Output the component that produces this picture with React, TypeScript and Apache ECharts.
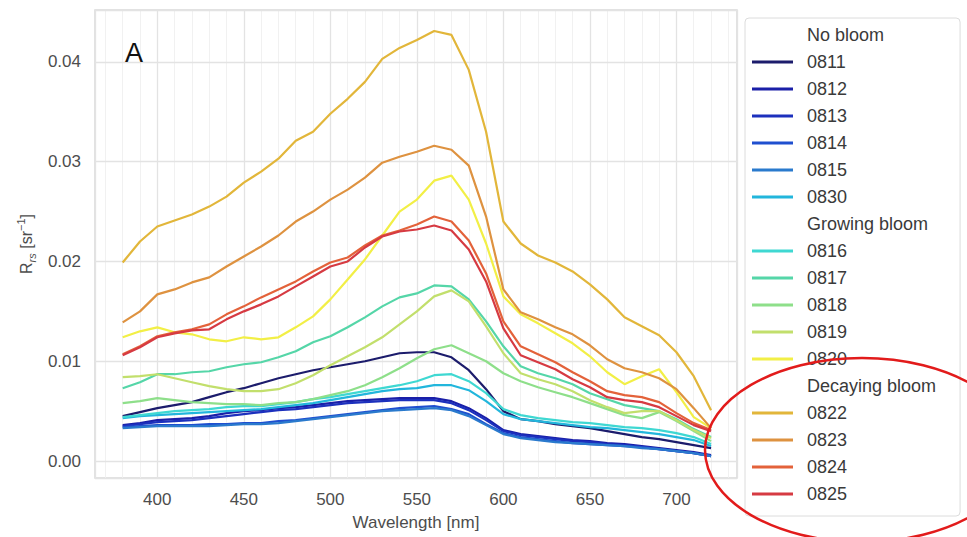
import React, { useEffect, useRef } from 'react';
import * as echarts from 'echarts';

const FONT = '"Liberation Sans", Arial, Helvetica, sans-serif';

const wavelengths = [380, 390, 400, 410, 420, 430, 440, 450, 460, 470, 480, 490, 500, 510, 520, 530, 540, 550, 560, 570, 580, 590, 600, 610, 620, 630, 640, 650, 660, 670, 680, 690, 700, 710, 720];

const xTicks = [400, 450, 500, 550, 600, 650, 700];
const yTicks = [0, 0.01, 0.02, 0.03, 0.04];

const noBloom = ['0811', '0812', '0813', '0814', '0815', '0830'];
const growingBloom = ['0816', '0817', '0818', '0819', '0820'];
const decayingBloom = ['0822', '0823', '0824', '0825'];
const groupHeaders = ['No bloom', 'Growing bloom', 'Decaying bloom'];

const r0811 = [0.0045, 0.0049, 0.0053, 0.0056, 0.0059, 0.0064, 0.0069, 0.0073, 0.0078, 0.0083, 0.0087, 0.0091, 0.0094, 0.0097, 0.0100, 0.0104, 0.0108, 0.0109, 0.0109, 0.0104, 0.0091, 0.0072, 0.0050, 0.0042, 0.0040, 0.0037, 0.0035, 0.0033, 0.0030, 0.0027, 0.0024, 0.0022, 0.0019, 0.0016, 0.0013];
const r0812 = [0.0036, 0.0038, 0.0041, 0.0042, 0.0043, 0.0045, 0.0048, 0.0050, 0.0051, 0.0053, 0.0054, 0.0056, 0.0058, 0.0060, 0.0061, 0.0062, 0.0063, 0.0063, 0.0063, 0.0060, 0.0053, 0.0043, 0.0031, 0.0027, 0.0025, 0.0023, 0.0021, 0.0020, 0.0018, 0.0017, 0.0015, 0.0013, 0.0011, 0.0009, 0.0006];
const r0813 = [0.0035, 0.0037, 0.0039, 0.0040, 0.0041, 0.0043, 0.0045, 0.0047, 0.0049, 0.0051, 0.0052, 0.0054, 0.0056, 0.0058, 0.0059, 0.0060, 0.0061, 0.0061, 0.0061, 0.0058, 0.0051, 0.0041, 0.0030, 0.0026, 0.0024, 0.0022, 0.0020, 0.0019, 0.0017, 0.0016, 0.0014, 0.0012, 0.0010, 0.0008, 0.0005];
const r0814 = [0.0034, 0.0035, 0.0036, 0.0036, 0.0036, 0.0037, 0.0037, 0.0038, 0.0038, 0.0040, 0.0041, 0.0043, 0.0045, 0.0047, 0.0049, 0.0051, 0.0053, 0.0054, 0.0055, 0.0052, 0.0047, 0.0037, 0.0028, 0.0024, 0.0022, 0.0020, 0.0018, 0.0017, 0.0016, 0.0015, 0.0014, 0.0012, 0.0010, 0.0008, 0.0005];
const r0815 = [0.0033, 0.0034, 0.0035, 0.0035, 0.0035, 0.0035, 0.0036, 0.0037, 0.0037, 0.0038, 0.0040, 0.0042, 0.0044, 0.0046, 0.0048, 0.0050, 0.0051, 0.0052, 0.0053, 0.0051, 0.0045, 0.0036, 0.0027, 0.0023, 0.0021, 0.0019, 0.0018, 0.0017, 0.0016, 0.0015, 0.0013, 0.0012, 0.0010, 0.0008, 0.0005];
const r0830 = [0.0043, 0.0045, 0.0046, 0.0047, 0.0048, 0.0049, 0.0050, 0.0051, 0.0052, 0.0054, 0.0056, 0.0058, 0.0061, 0.0064, 0.0067, 0.0070, 0.0072, 0.0073, 0.0076, 0.0076, 0.0071, 0.0060, 0.0047, 0.0042, 0.0040, 0.0038, 0.0036, 0.0034, 0.0033, 0.0031, 0.0029, 0.0027, 0.0024, 0.0021, 0.0015];
const r0816 = [0.0044, 0.0046, 0.0048, 0.0050, 0.0051, 0.0052, 0.0054, 0.0055, 0.0055, 0.0057, 0.0059, 0.0062, 0.0064, 0.0067, 0.0070, 0.0073, 0.0076, 0.0080, 0.0086, 0.0087, 0.0080, 0.0068, 0.0052, 0.0046, 0.0043, 0.0041, 0.0039, 0.0038, 0.0036, 0.0034, 0.0033, 0.0031, 0.0028, 0.0024, 0.0017];
const r0817 = [0.0073, 0.0079, 0.0087, 0.0087, 0.0089, 0.0090, 0.0094, 0.0097, 0.0099, 0.0104, 0.0110, 0.0119, 0.0125, 0.0134, 0.0144, 0.0155, 0.0164, 0.0168, 0.0176, 0.0175, 0.0162, 0.0140, 0.0115, 0.0095, 0.0088, 0.0083, 0.0077, 0.0068, 0.0062, 0.0056, 0.0053, 0.0050, 0.0042, 0.0032, 0.0024];
const r0818 = [0.0058, 0.0060, 0.0063, 0.0061, 0.0059, 0.0058, 0.0057, 0.0057, 0.0056, 0.0058, 0.0059, 0.0062, 0.0066, 0.0070, 0.0076, 0.0084, 0.0093, 0.0103, 0.0112, 0.0116, 0.0108, 0.0100, 0.0088, 0.0080, 0.0074, 0.0069, 0.0064, 0.0058, 0.0052, 0.0046, 0.0043, 0.0049, 0.0040, 0.0030, 0.0020];
const r0819 = [0.0084, 0.0085, 0.0087, 0.0083, 0.0079, 0.0075, 0.0072, 0.0070, 0.0070, 0.0072, 0.0078, 0.0086, 0.0096, 0.0105, 0.0114, 0.0124, 0.0137, 0.0150, 0.0165, 0.0171, 0.0160, 0.0135, 0.0108, 0.0088, 0.0082, 0.0077, 0.0070, 0.0061, 0.0054, 0.0048, 0.0050, 0.0050, 0.0041, 0.0031, 0.0023];
const r0820 = [0.0124, 0.0130, 0.0134, 0.0129, 0.0127, 0.0122, 0.0120, 0.0124, 0.0122, 0.0124, 0.0134, 0.0145, 0.0162, 0.0182, 0.0202, 0.0226, 0.0250, 0.0262, 0.0281, 0.0286, 0.0262, 0.0218, 0.0165, 0.0147, 0.0138, 0.0128, 0.0118, 0.0105, 0.0089, 0.0077, 0.0085, 0.0092, 0.0069, 0.0044, 0.0033];
const r0822 = [0.0199, 0.0220, 0.0235, 0.0241, 0.0247, 0.0255, 0.0265, 0.0279, 0.0290, 0.0303, 0.0321, 0.0330, 0.0348, 0.0363, 0.0380, 0.0403, 0.0414, 0.0422, 0.0431, 0.0427, 0.0392, 0.0330, 0.0240, 0.0218, 0.0206, 0.0199, 0.0190, 0.0177, 0.0162, 0.0144, 0.0135, 0.0126, 0.0109, 0.0085, 0.0051];
const r0823 = [0.0139, 0.0150, 0.0167, 0.0172, 0.0179, 0.0184, 0.0195, 0.0205, 0.0215, 0.0226, 0.0240, 0.0250, 0.0262, 0.0272, 0.0284, 0.0299, 0.0305, 0.0310, 0.0316, 0.0312, 0.0296, 0.0245, 0.0172, 0.0149, 0.0142, 0.0134, 0.0127, 0.0116, 0.0102, 0.0093, 0.0089, 0.0083, 0.0072, 0.0053, 0.0033];
const r0824 = [0.0107, 0.0115, 0.0125, 0.0129, 0.0132, 0.0137, 0.0147, 0.0155, 0.0164, 0.0172, 0.0180, 0.0190, 0.0199, 0.0204, 0.0216, 0.0226, 0.0231, 0.0237, 0.0245, 0.0240, 0.0221, 0.0188, 0.0140, 0.0115, 0.0107, 0.0099, 0.0089, 0.0080, 0.0070, 0.0066, 0.0064, 0.0059, 0.0048, 0.0038, 0.0031];
const r0825 = [0.0106, 0.0114, 0.0124, 0.0128, 0.0131, 0.0132, 0.0142, 0.0150, 0.0157, 0.0165, 0.0175, 0.0185, 0.0195, 0.0200, 0.0214, 0.0225, 0.0230, 0.0232, 0.0236, 0.0231, 0.0212, 0.0180, 0.0133, 0.0106, 0.0099, 0.0092, 0.0082, 0.0074, 0.0064, 0.0061, 0.0059, 0.0054, 0.0045, 0.0036, 0.0030];

const seriesValues: Record<string, number[]> = {
  '0811': r0811, '0812': r0812, '0813': r0813, '0814': r0814, '0815': r0815, '0830': r0830,
  '0816': r0816, '0817': r0817, '0818': r0818, '0819': r0819, '0820': r0820,
  '0822': r0822, '0823': r0823, '0824': r0824, '0825': r0825,
};

const seriesColors: Record<string, string> = {
  '0811': '#1c1c6c', '0812': '#1a1fa8', '0813': '#1c30bd', '0814': '#1f4fcf', '0815': '#2a7acd', '0830': '#22b6dc',
  '0816': '#3fd8d2', '0817': '#55d6a8', '0818': '#8edf8a', '0819': '#c2df6c', '0820': '#f2ef46',
  '0822': '#e2b63a', '0823': '#de9240', '0824': '#e3623a', '0825': '#d63a42',
};

export default function App() {
  const ref = useRef<HTMLDivElement>(null);

  useEffect(() => {
    document.body.style.margin = '0';
    if (!ref.current) return;
    const chart = echarts.init(ref.current, undefined, { renderer: 'svg' });

    const groups = [noBloom, growingBloom, decayingBloom];
    const legendData: any[] = [];
    groups.forEach((g, i) => {
      legendData.push({ name: groupHeaders[i], icon: 'rect' });
      g.forEach((n) => legendData.push({ name: n, icon: 'rect' }));
    });

    const minorX: any[] = [];
    for (let w = 370; w <= 730; w += 10) {
      if (w % 50 !== 0) minorX.push({ xAxis: w });
    }
    const minorY: any[] = [];
    for (let k = 1; k <= 22; k++) {
      if (k % 5 !== 0) minorY.push({ yAxis: +(k * 0.002).toFixed(3) });
    }

    const headerSeries = groupHeaders.map((h, i) => ({
      type: 'line',
      name: h,
      data: [],
      symbol: 'none',
      lineStyle: { color: 'rgba(0,0,0,0)', width: 0 },
      itemStyle: { color: 'rgba(0,0,0,0)' },
      ...(i === 0
        ? {
            markLine: {
              silent: true,
              z: 0.5,
              symbol: ['none', 'none'],
              label: { show: false },
              lineStyle: { color: '#f1f1f1', width: 1, type: 'solid' },
              emphasis: { disabled: true },
              data: [...minorX, ...minorY],
            },
          }
        : {}),
    }));

    const dataSeries = [...noBloom, ...growingBloom, ...decayingBloom].map((n) => ({
      type: 'line',
      name: n,
      data: wavelengths.map((w, i) => [w, seriesValues[n][i]]),
      symbol: 'none',
      showSymbol: false,
      z: 2,
      lineStyle: { color: seriesColors[n], width: 2.2 },
      itemStyle: { color: seriesColors[n] },
      emphasis: { disabled: true },
    }));

    const option: any = {
      animation: false,
      textStyle: { fontFamily: FONT },
      grid: {
        left: 95, right: 230, top: 10, bottom: 59,
        show: true, borderColor: '#d9d9d9', borderWidth: 1.5, backgroundColor: '#ffffff', z: 0,
      },
      xAxis: {
        type: 'value', min: 364, max: 735, splitNumber: 7,
        minInterval: xTicks[1] - xTicks[0], maxInterval: xTicks[1] - xTicks[0],
        z: 1,
        axisLine: { show: false }, axisTick: { show: false },
        axisLabel: {
          showMinLabel: false, showMaxLabel: false, color: '#4d4d4d', fontSize: 17, margin: 13, fontFamily: FONT,
        },
        splitLine: { lineStyle: { color: '#e3e3e3', width: 1.3 } },
        name: 'Wavelength [nm]', nameLocation: 'middle', nameGap: 36,
        nameTextStyle: { color: '#4d4d4d', fontSize: 17, fontFamily: FONT },
      },
      yAxis: {
        type: 'value', min: -0.0017, max: 0.0452, splitNumber: 5,
        minInterval: yTicks[1] - yTicks[0], maxInterval: yTicks[1] - yTicks[0],
        z: 1,
        axisLine: { show: false }, axisTick: { show: false },
        axisLabel: {
          showMinLabel: false, showMaxLabel: false, color: '#4d4d4d', fontSize: 17, margin: 14, fontFamily: FONT,
          formatter: (v: number) => v.toFixed(2),
        },
        splitLine: { lineStyle: { color: '#e3e3e3', width: 1.3 } },
        name: '{r|R}{s|rs}{r| [sr}{p|−1}{r|]}', nameLocation: 'middle', nameGap: 56,
        nameTextStyle: {
          fontFamily: FONT,
          rich: {
            r: { fontSize: 16, color: '#4d4d4d', fontFamily: FONT, lineHeight: 22, verticalAlign: 'middle' },
            s: { fontSize: 11, color: '#4d4d4d', fontFamily: FONT, fontStyle: 'italic', verticalAlign: 'bottom', lineHeight: 22, padding: [8, 0, 0, 0] },
            p: { fontSize: 11, color: '#4d4d4d', fontFamily: FONT, verticalAlign: 'top', lineHeight: 22, padding: [0, 0, 8, 0] },
          },
        },
      },
      legend: {
        orient: 'vertical', left: 745, top: 18,
        itemWidth: 41, itemHeight: 3, itemGap: 7,
        padding: [7, 24, 12, 7],
        borderColor: '#dcdcdc', borderWidth: 1, borderRadius: 4, backgroundColor: '#ffffff',
        selectedMode: false,
        textStyle: { fontSize: 18, color: '#3a3a3a', lineHeight: 20, padding: [0, 0, 0, 9], fontFamily: FONT },
        data: legendData,
      },
      graphic: [
        {
          type: 'text', left: 125, top: 39, z: 50,
          style: { text: 'A', fontSize: 27, fill: '#111111', fontFamily: FONT },
        },
        {
          type: 'ellipse', z: 100,
          shape: { cx: 862, cy: 450, rx: 157, ry: 92 },
          style: { fill: 'none', stroke: '#e21b1b', lineWidth: 2.5 },
        },
      ],
      series: [...headerSeries, ...dataSeries],
    };

    chart.setOption(option);
    return () => chart.dispose();
  }, []);

  return (
    <div
      ref={ref}
      style={{ position: 'absolute', left: 0, top: 0, width: 967, height: 537, background: '#ffffff' }}
    />
  );
}
